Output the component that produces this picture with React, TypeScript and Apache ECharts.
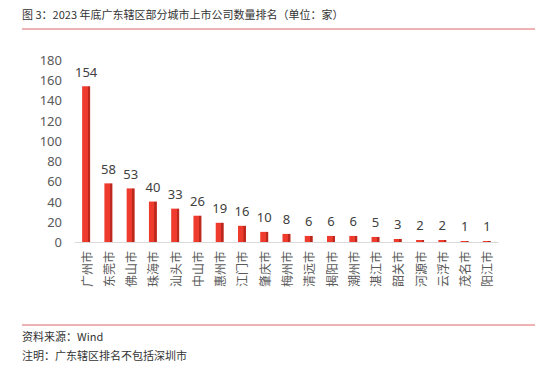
import React, { useEffect, useRef } from "react";
import * as echarts from "echarts";

const titleText = "图 3：2023 年底广东辖区部分城市上市公司数量排名（单位：家）";
const sourceText = "资料来源：Wind";
const noteText = "注明：广东辖区排名不包括深圳市";
const cities = ["广州市", "东莞市", "佛山市", "珠海市", "汕头市", "中山市", "惠州市", "江门市", "肇庆市", "梅州市", "清远市", "揭阳市", "潮州市", "湛江市", "韶关市", "河源市", "云浮市", "茂名市", "阳江市"];
const counts = [154, 58, 53, 40, 33, 26, 19, 16, 10, 8, 6, 6, 6, 5, 3, 2, 2, 1, 1];
const yMin = 0;
const yMax = 180;
const yInterval = 20;

export default function App() {
  const ref = useRef<HTMLDivElement>(null);
  useEffect(() => {
    if (!ref.current) return;
    const chart = echarts.init(ref.current, undefined, { renderer: "svg" });
    const sans = "'Noto Sans', 'Noto Sans CJK SC', sans-serif";
    const cjk = "'Noto Sans CJK SC', sans-serif";
    chart.setOption({
      animation: false,
      backgroundColor: "#ffffff",
      grid: { left: 75, right: 56, top: 60, bottom: 123 },
      xAxis: {
        type: "category",
        data: cities,
        axisLine: { show: true, lineStyle: { color: "#d9d9d9", width: 1 } },
        axisTick: { show: false },
        axisLabel: {
          rotate: 90,
          margin: 9,
          fontSize: 12,
          color: "#595959",
          fontFamily: cjk,
          interval: 0,
        },
      },
      yAxis: {
        type: "value",
        min: yMin,
        max: yMax,
        interval: yInterval,
        axisLine: { show: false },
        axisTick: { show: false },
        splitLine: { show: false },
        axisLabel: { fontSize: 13, color: "#595959", fontFamily: sans, margin: 13 },
      },
      series: [
        {
          type: "bar",
          data: counts,
          barWidth: 8,
          itemStyle: {
            color: new echarts.graphic.LinearGradient(0, 0, 1, 0, [
              { offset: 0, color: "#ee3b2e" },
              { offset: 0.68, color: "#ee3b2e" },
              { offset: 0.7, color: "#b8261c" },
              { offset: 1, color: "#c22a20" },
            ]),
          },
          label: {
            show: true,
            position: "top",
            distance: 8,
            fontSize: 13,
            color: "#404040",
            fontFamily: sans,
          },
        },
      ],
      graphic: [
        {
          type: "text",
          left: 22,
          top: 8,
          style: { text: titleText, fontSize: 11, fill: "#333333", fontFamily: cjk },
        },
        {
          type: "line",
          shape: { x1: 22, y1: 29, x2: 535, y2: 29 },
          style: { stroke: "#e06666", lineWidth: 1 },
        },
        {
          type: "line",
          shape: { x1: 22, y1: 325, x2: 535, y2: 325 },
          style: { stroke: "#e06666", lineWidth: 1 },
        },
        {
          type: "text",
          left: 22,
          top: 330,
          style: { text: sourceText, fontSize: 11, fill: "#333333", fontFamily: cjk },
        },
        {
          type: "text",
          left: 22,
          top: 349,
          style: { text: noteText, fontSize: 11, fill: "#333333", fontFamily: cjk },
        },
      ],
    });
    return () => chart.dispose();
  }, []);
  return (
    <div
      ref={ref}
      style={{ position: "fixed", left: 0, top: 0, width: 554, height: 365, background: "#fff" }}
    />
  );
}
